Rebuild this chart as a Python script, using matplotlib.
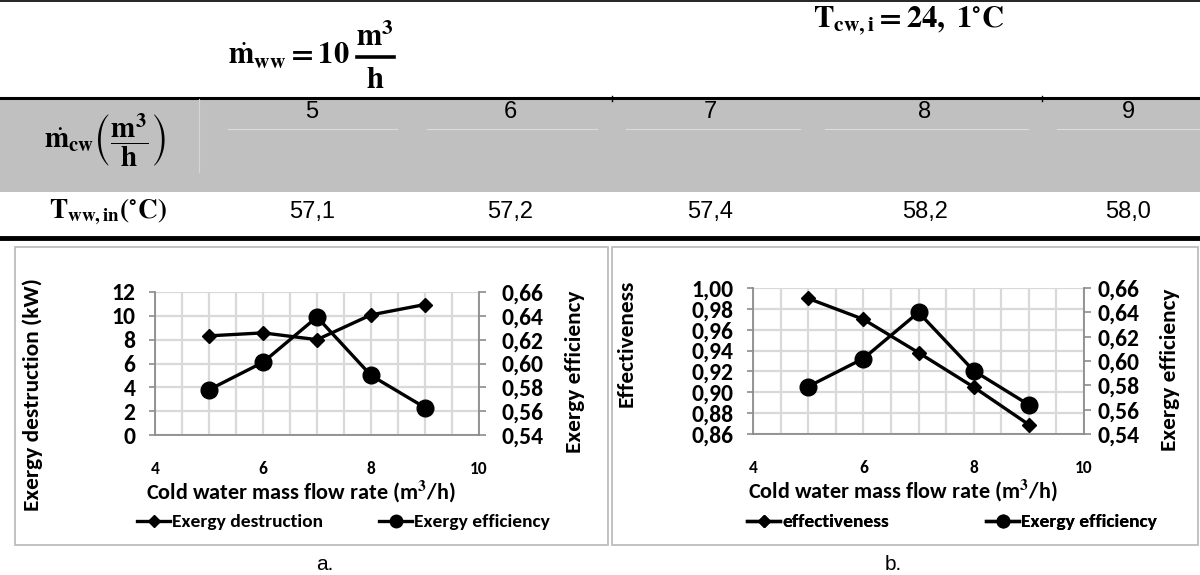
import matplotlib
matplotlib.use("Agg")
import matplotlib.pyplot as plt
from matplotlib.ticker import FuncFormatter, MultipleLocator
from matplotlib.lines import Line2D
from matplotlib.patches import Rectangle

# ---------------- data ----------------
cw_flow = [5, 6, 7, 8, 9]                      # cold water flow (m3/h)
t_ww_in = [57.1, 57.2, 57.4, 58.2, 58.0]       # hot water inlet temp (C)
exergy_destruction = [8.32, 8.57, 8.0, 10.08, 10.95]   # kW
exergy_eff_a = [0.578, 0.601, 0.639, 0.590, 0.563]
effectiveness = [0.990, 0.970, 0.938, 0.905, 0.869]
exergy_eff_b = [0.579, 0.602, 0.640, 0.592, 0.564]

W, H = 1200, 575
plt.rcParams['mathtext.fontset'] = 'stix'
FONT = ['Carlito', 'Lato', 'DejaVu Sans']
BW = 'bold'

fig = plt.figure(figsize=(W / 100, H / 100), dpi=100)
fig.patch.set_facecolor('white')

ov = fig.add_axes([0, 0, 1, 1], zorder=0)
ov.set_xlim(0, W)
ov.set_ylim(H, 0)
ov.axis('off')

def comma(v, d):
    return f"{v:.{d}f}".replace('.', ',')

# ---------------- header ----------------
ov.plot([0, W], [0.8, 0.8], color='black', lw=1.2)
ov.text(350, 65, r'$\dot{\mathbf{m}}_{\mathbf{ww}}\mathbf{=10}$',
        ha='right', va='baseline', fontsize=22)
ov.text(375, 46, r'$\mathbf{m}^{\mathbf{3}}$', ha='center', va='baseline', fontsize=22)
ov.plot([357, 394], [56.5, 56.5], color='black', lw=2.6)
ov.text(375, 88, r'$\mathbf{h}$', ha='center', va='baseline', fontsize=22)
ov.text(909, 21, r'$\mathbf{T}_{\mathbf{cw,i}}\mathbf{=24,\ 1^{\circ}C}$',
        ha='center', va='center', fontsize=22)

# ---------------- table ----------------
ov.add_patch(Rectangle((0, 97), W, 95, facecolor='#c0c0c0', edgecolor='none'))
ov.plot([0, W], [97.5, 97.5], color='black', lw=2.2)
ov.plot([199, 199], [99, 172], color='#d6d6d6', lw=0.8)
col_x = [312, 510, 710, 925, 1128]
seg = [(228, 397), (427, 597), (626, 800), (825, 1028), (1057, 1200)]
for cx, (s0, s1), f, t in zip(col_x, seg, cw_flow, t_ww_in):
    ov.plot([s0, s1], [129, 129], color='#dcdcdc', lw=0.8)
    ov.text(cx, 112, str(f), ha='center', va='center', fontsize=17,
            family='Liberation Sans')
    ov.text(cx, 212, comma(t, 1), ha='center', va='center', fontsize=17,
            family='Liberation Sans')
for sx in (612, 1042):
    ov.plot([sx, sx], [96, 101], color='black', lw=1)

ov.text(105, 140, r'$\dot{\mathbf{m}}_{\mathbf{cw}}\left(\dfrac{\mathbf{m}^{\mathbf{3}}}{\mathbf{h}}\right)$',
        ha='center', va='center', fontsize=21)
ov.text(108, 212, r'$\mathbf{T}_{\mathbf{ww,in}}\mathbf{(^{\circ}C)}$',
        ha='center', va='center', fontsize=19.5)
ov.plot([0, W], [237.5, 237.5], color='black', lw=3.5)

# frames around charts
ov.add_patch(Rectangle((15, 247), 593, 298, facecolor='none', edgecolor='#bdbdbd', lw=1.3))
ov.add_patch(Rectangle((612, 247), 586, 298, facecolor='none', edgecolor='#bdbdbd', lw=1.3))
ov.text(325, 565, 'a.', ha='center', va='center', fontsize=15, family='Liberation Sans')
ov.text(893, 565, 'b.', ha='center', va='center', fontsize=15, family='Liberation Sans')


def make_chart(px_left, px_right, px_top, px_bottom, y1, y1lim, y1step, y1dec,
               y2, ylabel1, name1, leg_x, ylab1_x, ylab1_y, ylab2_x, ylab2_y,
               lpad, rpad, colsp):
    ax = fig.add_axes([px_left / W, 1 - px_bottom / H,
                       (px_right - px_left) / W, (px_bottom - px_top) / H], zorder=2)
    ax.set_xlim(4, 10)
    ax.set_ylim(*y1lim)
    ax.xaxis.set_major_locator(MultipleLocator(2))
    ax.xaxis.set_minor_locator(MultipleLocator(0.5))
    ax.yaxis.set_major_locator(MultipleLocator(y1step))
    ax.grid(which='both', axis='x', color='#d9d9d9', lw=1.6)
    ax.grid(which='major', axis='y', color='#d9d9d9', lw=1.6)
    ax.set_axisbelow(True)
    for s in ('top', 'right'):
        ax.spines[s].set_visible(False)
    for s in ('left', 'bottom'):
        ax.spines[s].set_color('#8c8c8c')
        ax.spines[s].set_linewidth(1.3)
    ax.tick_params(axis='x', which='both', length=0, pad=19, labelsize=12.5)
    ax.tick_params(axis='y', length=4, color='#8c8c8c', width=1.2, pad=lpad, labelsize=17)
    ax.yaxis.set_major_formatter(FuncFormatter(lambda v, p: comma(v, y1dec)))
    for lab in ax.get_xticklabels() + ax.get_yticklabels():
        lab.set_fontfamily(FONT)
        lab.set_fontweight(BW)
    ax.plot(cw_flow, y1, color='black', lw=2.4, marker='D', ms=7.5,
            markerfacecolor='black', zorder=3)

    ax2 = ax.twinx()
    ax2.set_ylim(0.54, 0.66)
    ax2.yaxis.set_major_locator(MultipleLocator(0.02))
    ax2.yaxis.set_major_formatter(FuncFormatter(lambda v, p: comma(v, 2)))
    for s in ('top', 'left', 'bottom'):
        ax2.spines[s].set_visible(False)
    ax2.spines['right'].set_color('#8c8c8c')
    ax2.spines['right'].set_linewidth(1.3)
    ax2.tick_params(axis='y', length=5, color='#8c8c8c', width=1.2, pad=rpad, labelsize=17)
    for lab in ax2.get_yticklabels():
        lab.set_fontfamily(FONT)
        lab.set_fontweight(BW)
    ax2.plot(cw_flow, y2, color='black', lw=2.4, marker='o', ms=12,
             markerfacecolor='black', zorder=3)

    ov.text(ylab1_x, ylab1_y, ylabel1, rotation=90, ha='center', va='center',
            fontsize=16.8, fontweight=BW, family=FONT)
    ov.text(ylab2_x, ylab2_y, 'Exergy efficiency', rotation=90, ha='center', va='center',
            fontsize=16.8, fontweight=BW, family=FONT)
    xc = (px_left + px_right) / 2 - 16
    ov.text(xc, px_bottom + 56, 'Cold water mass flow rate (m$^{\\mathbf{3}}$/h)',
            ha='center', va='center', fontsize=16, fontweight=BW, family=FONT)

    h1 = Line2D([], [], color='black', lw=2.4, marker='D', ms=6)
    h2 = Line2D([], [], color='black', lw=2.4, marker='o', ms=9)
    leg = ov.legend([h1, h2], [name1, 'Exergy efficiency'], ncol=2,
                    loc='center left', bbox_to_anchor=(leg_x / W, 1 - 522 / H),
                    bbox_transform=fig.transFigure, frameon=False,
                    prop={'family': FONT, 'size': 14, 'weight': 'bold'},
                    handlelength=1.7, handletextpad=0.1, columnspacing=colsp,
                    borderpad=0, borderaxespad=0)
    return leg

leg_a = make_chart(155, 479, 292, 435, exergy_destruction, (0, 12), 2, 0,
                   exergy_eff_a, 'Exergy destruction (kW)', 'Exergy destruction', 137,
                   33, 395, 575, 372, 10, 11, 2.9)
ov.add_artist(leg_a)
leg_b = make_chart(753, 1084, 288, 434, effectiveness, (0.86, 1.00), 0.02, 2,
                   exergy_eff_b, 'Effectiveness', 'effectiveness', 747,
                   627, 343, 1170, 370, 10, 5, 5.0)
ov.add_artist(leg_b)

fig.savefig('out.png', dpi=100, facecolor='white')
